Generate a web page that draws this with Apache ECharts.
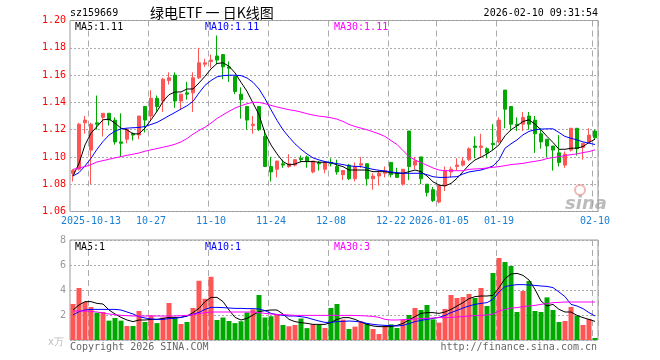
<!DOCTYPE html>
<html><head><meta charset="utf-8">
<script src="https://cdn.jsdelivr.net/npm/echarts@6/dist/echarts.min.js"></script>
<style>html,body{margin:0;padding:0;background:#fff}#c{width:660px;height:360px}</style>
</head><body><div id="c"></div>
<script>
const dates = ['2025-09-30','2025-10-09','2025-10-10','2025-10-13','2025-10-14','2025-10-15','2025-10-16','2025-10-17',
'2025-10-20','2025-10-21','2025-10-22','2025-10-23','2025-10-24',
'2025-10-27','2025-10-28','2025-10-29','2025-10-30','2025-10-31',
'2025-11-03','2025-11-04','2025-11-05','2025-11-06','2025-11-07',
'2025-11-10','2025-11-11','2025-11-12','2025-11-13','2025-11-14',
'2025-11-17','2025-11-18','2025-11-19','2025-11-20','2025-11-21',
'2025-11-24','2025-11-25','2025-11-26','2025-11-27','2025-11-28',
'2025-12-01','2025-12-02','2025-12-03','2025-12-04','2025-12-05',
'2025-12-08','2025-12-09','2025-12-10','2025-12-11','2025-12-12',
'2025-12-15','2025-12-16','2025-12-17','2025-12-18','2025-12-19',
'2025-12-22','2025-12-23','2025-12-24','2025-12-25','2025-12-26',
'2025-12-29','2025-12-30','2025-12-31',
'2026-01-05','2026-01-06','2026-01-07','2026-01-08','2026-01-09',
'2026-01-12','2026-01-13','2026-01-14','2026-01-15','2026-01-16',
'2026-01-19','2026-01-20','2026-01-21','2026-01-22','2026-01-23',
'2026-01-26','2026-01-27','2026-01-28','2026-01-29','2026-01-30',
'2026-02-02','2026-02-03','2026-02-04','2026-02-05','2026-02-06',
'2026-02-09','2026-02-10'];

const tickDates = ['2025-10-13','2025-10-27','2025-11-10','2025-11-24','2025-12-08','2025-12-22','2026-01-05','2026-01-19','2026-02-10'];
const tickTexts = ['2025-10-13','10-27','11-10','11-24','12-08','12-22','2026-01-05','01-19','02-10'];

const openP = [1.088,1.091,1.125,1.105,1.125,1.129,1.132,1.127,1.111,1.113,
1.117,1.116,1.137,1.130,1.143,1.141,1.156,1.160,1.141,1.147,
1.147,1.158,1.168,1.170,1.174,1.175,1.166,1.159,1.146,1.137,
1.123,1.137,1.115,1.093,1.091,1.095,1.093,1.094,1.099,1.100,
1.089,1.096,1.091,1.096,1.093,1.087,1.094,1.084,1.094,1.095,
1.084,1.086,1.088,1.096,1.088,1.080,1.119,1.094,1.100,1.080,
1.076,1.067,1.079,1.089,1.093,1.094,1.098,1.108,1.107,1.106,
1.110,1.111,1.149,1.137,1.124,1.124,1.130,1.127,1.117,1.113,
1.108,1.103,1.094,1.105,1.121,1.107,1.111,1.119];

const closeP = [1.090,1.124,1.127,1.124,1.124,1.132,1.127,1.111,1.110,1.120,
1.116,1.130,1.127,1.143,1.137,1.157,1.158,1.141,1.146,1.146,
1.158,1.169,1.169,1.171,1.171,1.166,1.165,1.148,1.142,1.127,
1.124,1.120,1.093,1.089,1.097,1.094,1.095,1.098,1.098,1.097,
1.097,1.095,1.096,1.095,1.089,1.090,1.084,1.093,1.095,1.084,
1.086,1.088,1.090,1.087,1.085,1.091,1.093,1.097,1.084,1.074,
1.068,1.079,1.090,1.091,1.094,1.097,1.106,1.107,1.108,1.103,
1.109,1.127,1.135,1.124,1.123,1.129,1.124,1.117,1.111,1.108,
1.105,1.096,1.102,1.121,1.106,1.110,1.116,1.114];

const lowP = [1.082,1.090,1.117,1.080,1.120,1.115,1.123,1.109,1.100,1.110,
1.112,1.113,1.118,1.127,1.133,1.133,1.153,1.136,1.135,1.142,
1.133,1.157,1.166,1.165,1.168,1.157,1.155,1.146,1.128,1.120,
1.117,1.119,1.093,1.082,1.085,1.092,1.092,1.093,1.096,1.092,
1.088,1.090,1.088,1.093,1.087,1.083,1.083,1.082,1.092,1.079,
1.076,1.079,1.085,1.085,1.085,1.079,1.083,1.091,1.080,1.071,
1.067,1.066,1.075,1.085,1.090,1.093,1.097,1.099,1.100,1.099,
1.105,1.110,1.121,1.119,1.119,1.119,1.120,1.103,1.106,1.100,
1.090,1.093,1.092,1.104,1.101,1.098,1.110,1.113];

const highP = [1.091,1.125,1.130,1.125,1.145,1.132,1.132,1.129,1.132,1.121,
1.118,1.130,1.137,1.149,1.145,1.158,1.162,1.162,1.146,1.155,
1.162,1.180,1.172,1.175,1.189,1.175,1.170,1.159,1.151,1.137,
1.130,1.137,1.120,1.100,1.097,1.098,1.102,1.098,1.101,1.101,
1.097,1.097,1.097,1.099,1.098,1.090,1.095,1.096,1.100,1.095,
1.088,1.090,1.093,1.096,1.092,1.091,1.119,1.100,1.100,1.080,
1.078,1.079,1.093,1.093,1.099,1.100,1.107,1.115,1.117,1.107,
1.124,1.129,1.149,1.137,1.129,1.133,1.133,1.130,1.121,1.113,
1.108,1.116,1.104,1.121,1.121,1.110,1.121,1.120];

const volume = [2.88,4.16,3.04,2.64,2.19,2.24,1.55,1.76,1.55,1.12,
1.12,2.32,1.44,1.97,1.35,1.80,2.96,1.74,1.28,1.44,
2.56,4.74,3.30,5.06,1.60,1.80,1.52,1.35,1.50,2.20,
2.45,3.60,1.80,1.90,2.05,1.20,1.10,1.20,1.72,0.95,
1.25,1.20,0.96,2.56,2.88,1.63,0.88,1.07,1.49,1.31,
0.88,0.48,1.12,1.25,0.96,1.60,2.00,2.56,2.40,2.80,
1.65,1.39,2.48,3.60,3.36,3.44,3.68,3.36,4.16,2.72,
5.36,6.56,6.24,5.92,2.24,3.92,4.72,2.32,2.24,3.41,
2.40,1.44,1.52,2.64,1.92,1.20,1.68,0.16];

const ma5 = [1.0860,1.0953,1.1088,1.1174,1.1223,1.1272,1.1277,1.1248,1.1211,1.1199,
1.1169,1.1169,1.1211,1.1272,1.1334,1.1407,1.1456,1.1476,1.1476,1.1498,
1.1498,1.1542,1.1591,1.1645,1.1685,1.1690,1.1665,1.1616,1.1547,1.1481,
1.1395,1.1309,1.1174,1.1088,1.1022,1.0966,1.0941,1.0948,1.0966,1.0966,
1.0966,1.0961,1.0961,1.0958,1.0941,1.0929,1.0904,1.0904,1.0904,1.0904,
1.0892,1.0892,1.0892,1.0885,1.0880,1.0880,1.0892,1.0904,1.0892,1.0860,
1.0818,1.0794,1.0787,1.0806,1.0843,1.0892,1.0941,1.0978,1.0998,1.1022,
1.1052,1.1088,1.1155,1.1199,1.1228,1.1260,1.1272,1.1240,1.1199,1.1150,
1.1106,1.1056,1.1056,1.1064,1.1064,1.1076,1.1106,1.1130];

const ma10 = [1.0860,1.0885,1.0934,1.0990,1.1056,1.1113,1.1160,1.1189,1.1206,1.1211,
1.1214,1.1216,1.1223,1.1238,1.1253,1.1277,1.1302,1.1326,1.1351,1.1375,
1.1407,1.1469,1.1525,1.1560,1.1587,1.1596,1.1599,1.1599,1.1596,1.1579,
1.1547,1.1498,1.1427,1.1346,1.1268,1.1199,1.1145,1.1096,1.1056,1.1022,
1.0993,1.0978,1.0966,1.0958,1.0951,1.0944,1.0934,1.0931,1.0929,1.0919,
1.0909,1.0902,1.0897,1.0890,1.0885,1.0880,1.0880,1.0880,1.0880,1.0870,
1.0855,1.0850,1.0850,1.0853,1.0855,1.0875,1.0890,1.0897,1.0904,1.0917,
1.0934,1.0978,1.1064,1.1096,1.1125,1.1162,1.1187,1.1199,1.1204,1.1206,
1.1206,1.1179,1.1150,1.1137,1.1125,1.1110,1.1101,1.1091];

const ma30 = [1.0909,1.0919,1.0929,1.0944,1.0963,1.0973,1.0983,1.0993,1.1002,1.1012,
1.1020,1.1029,1.1042,1.1052,1.1061,1.1071,1.1081,1.1093,1.1110,1.1135,
1.1167,1.1194,1.1218,1.1248,1.1282,1.1309,1.1334,1.1358,1.1375,1.1390,
1.1400,1.1400,1.1390,1.1378,1.1366,1.1356,1.1346,1.1339,1.1329,1.1317,
1.1307,1.1299,1.1294,1.1287,1.1277,1.1260,1.1238,1.1223,1.1211,1.1199,
1.1184,1.1169,1.1150,1.1120,1.1091,1.1047,1.1002,1.0978,1.0958,1.0939,
1.0919,1.0904,1.0899,1.0899,1.0899,1.0899,1.0909,1.0912,1.0914,1.0919,
1.0924,1.0929,1.0936,1.0944,1.0948,1.0953,1.0961,1.0968,1.0975,1.0988,
1.0995,1.1002,1.1010,1.1017,1.1022,1.1032,1.1039,1.1052];

const vma5 = [2.40,2.80,3.07,3.07,2.93,2.88,2.40,2.08,1.81,1.60,
1.47,1.60,1.60,1.65,1.65,1.73,1.81,1.81,1.81,1.92,
2.19,2.53,3.07,3.41,3.41,3.07,2.40,1.81,1.60,1.73,
2.00,2.27,2.35,2.40,2.40,2.08,1.65,1.47,1.39,1.33,
1.25,1.25,1.25,1.40,1.65,1.79,1.79,1.65,1.44,1.25,
1.12,1.07,1.07,1.07,1.17,1.33,1.60,1.87,2.13,2.19,
2.19,2.13,2.24,2.45,2.72,2.99,3.31,3.47,3.52,3.52,
3.57,4.19,4.91,5.28,5.33,5.17,4.80,4.05,3.12,2.72,
2.85,2.45,2.24,2.24,1.97,1.79,1.65,1.49];

const vma10 = [2.00,2.27,2.40,2.45,2.45,2.45,2.45,2.45,2.40,2.24,
2.08,1.87,1.76,1.68,1.65,1.65,1.71,1.73,1.81,1.92,
2.05,2.21,2.45,2.61,2.61,2.59,2.56,2.53,2.53,2.51,
2.51,2.48,2.35,2.13,2.03,1.97,1.92,1.92,1.87,1.79,
1.65,1.52,1.41,1.41,1.47,1.49,1.52,1.49,1.44,1.33,
1.25,1.20,1.17,1.15,1.12,1.17,1.31,1.47,1.57,1.65,
1.73,1.81,1.97,2.19,2.37,2.56,2.72,2.85,2.93,2.99,
3.25,3.84,4.27,4.37,4.43,4.43,4.40,4.37,4.32,4.29,
4.19,3.84,3.47,2.85,2.72,2.51,2.19,1.92];

const vma30 = [2.32,2.32,2.32,2.29,2.24,2.16,2.08,2.03,1.97,1.95,
1.92,1.92,1.92,1.92,1.92,1.92,1.92,1.92,1.95,1.97,
2.03,2.11,2.19,2.24,2.24,2.24,2.24,2.24,2.24,2.24,
2.24,2.19,2.13,2.08,2.05,2.03,2.00,1.97,1.97,1.97,
1.97,1.97,1.97,1.97,1.97,1.97,1.97,1.96,1.95,1.92,
1.89,1.81,1.65,1.60,1.60,1.63,1.65,1.68,1.71,1.73,
1.76,1.79,1.79,1.81,1.84,1.87,1.92,1.95,1.97,2.00,
2.08,2.32,2.45,2.56,2.59,2.67,2.72,2.77,2.85,2.91,
2.99,3.01,3.04,3.04,3.04,3.04,3.04,3.04];

const UP = '#ff5555', DOWN = '#00a800';
const MONO = '"DejaVu Sans Mono", "Liberation Mono", monospace';

const candles = dates.map((d, i) => [openP[i], closeP[i], lowP[i], highP[i]]);
const volBars = volume.map((v, i) => ({value: v, itemStyle: {color: closeP[i] >= openP[i] ? UP : DOWN}}));

const isTick = (i, v) => tickDates.indexOf(v) >= 0;
const splitX = {show: true, interval: isTick, lineStyle: {color: '#aaa', type: [6, 4], width: 1}};

function lineSeries(data, color, xi, z) {
  return {type: 'line', data: data, xAxisIndex: xi, yAxisIndex: xi, symbol: 'none', showSymbol: false,
    lineStyle: {color: color, width: 1}, itemStyle: {color: color}, z: z, silent: true};
}
function txt(x, y, s, color, extra) {
  return Object.assign({type: 'text', x: x, y: y, silent: true,
    style: Object.assign({text: s, fill: color, font: '10px ' + MONO, textVerticalAlign: 'middle', verticalAlign: 'middle'}, {})}, extra || {});
}

const chart = echarts.init(document.getElementById('c'), null, {renderer: 'canvas'});
chart.setOption({
  animation: false,
  backgroundColor: '#fff',
  textStyle: {fontFamily: MONO},
  grid: [
    {left: 70, top: 20.5, width: 528, height: 191, show: true, borderColor: '#999', borderWidth: 1, backgroundColor: 'transparent'},
    {left: 70, top: 240, width: 528, height: 100, show: true, borderColor: '#999', borderWidth: 1, backgroundColor: 'transparent'}
  ],
  xAxis: [
    {type: 'category', gridIndex: 0, data: dates, boundaryGap: true,
      axisLine: {show: false}, axisTick: {show: false},
      axisLabel: {interval: isTick, formatter: v => tickTexts[tickDates.indexOf(v)], color: '#1a7fd4', fontFamily: MONO, fontSize: 10, margin: 5},
      splitLine: splitX},
    {type: 'category', gridIndex: 1, data: dates, boundaryGap: true,
      axisLine: {show: false}, axisTick: {show: false}, axisLabel: {show: false},
      splitLine: splitX}
  ],
  yAxis: [
    {type: 'value', gridIndex: 0, min: 1.06, max: 1.20, interval: 0.02, scale: true,
      axisLine: {show: false}, axisTick: {show: false},
      axisLabel: {color: '#ff0000', formatter: v => v.toFixed(2), fontFamily: MONO, fontSize: 10, margin: 4},
      splitLine: {show: true, lineStyle: {color: '#aaa', type: [2, 2], width: 1}}},
    {type: 'value', gridIndex: 1, min: 0, max: 8, interval: 2,
      axisLine: {show: false}, axisTick: {show: false},
      axisLabel: {color: '#999', formatter: v => v === 0 ? '' : String(v), fontFamily: MONO, fontSize: 10, margin: 4},
      splitLine: {show: true, lineStyle: {color: '#aaa', type: [2, 2], width: 1}}}
  ],
  series: [
    {type: 'candlestick', xAxisIndex: 0, yAxisIndex: 0, data: candles, barWidth: 4, z: 3, silent: true,
      itemStyle: {color: UP, color0: DOWN, borderColor: UP, borderColor0: DOWN, borderWidth: 1}},
    lineSeries(ma5, '#000000', 0, 5),
    lineSeries(ma10, '#0000ff', 0, 5),
    lineSeries(ma30, '#ff00ff', 0, 5),
    {type: 'bar', xAxisIndex: 1, yAxisIndex: 1, data: volBars, barWidth: 5, z: 3, silent: true},
    lineSeries(vma5, '#000000', 1, 5),
    lineSeries(vma10, '#0000ff', 1, 5),
    lineSeries(vma30, '#ff00ff', 1, 5)
  ],
  graphic: [
    txt(70, 13, 'sz159669', '#000'),
    {type: 'text', x: 150, y: 13, silent: true, style: {text: '绿电ETF 一 日K线图', fill: '#000', font: '14px "Noto Sans CJK SC"', textVerticalAlign: 'middle', verticalAlign: 'middle'}},
    {type: 'text', x: 598, y: 13, silent: true, style: {text: '2026-02-10 09:31:54', fill: '#000', font: '10px ' + MONO, textAlign: 'right', align: 'right', textVerticalAlign: 'middle', verticalAlign: 'middle'}},
    txt(75, 27, 'MA5:1.11', '#000'),
    txt(205, 27, 'MA10:1.11', '#0000ff'),
    txt(334, 27, 'MA30:1.11', '#ff00ff'),
    txt(75, 247, 'MA5:1', '#000'),
    txt(205, 247, 'MA10:1', '#0000ff'),
    txt(334, 247, 'MA30:3', '#ff00ff'),
    txt(70, 347, 'Copyright 2026 SINA.COM', '#666'),
    {type: 'text', x: 597, y: 347, silent: true, style: {text: 'http://finance.sina.com.cn', fill: '#666', font: '10px ' + MONO, textAlign: 'right', align: 'right', textVerticalAlign: 'middle', verticalAlign: 'middle'}},
    txt(48, 342, 'x万', '#bbb'),
    {type: 'circle', silent: true, shape: {cx: 580, cy: 190, r: 5}, style: {fill: 'none', stroke: 'rgba(235,120,120,0.55)', lineWidth: 2}, z: 10},
    {type: 'text', x: 565, y: 204, silent: true, z: 10, style: {text: 'sina', fill: 'rgba(160,160,160,0.7)', font: 'italic bold 18px "DejaVu Sans"', textVerticalAlign: 'middle', verticalAlign: 'middle'}}
  ]
});
</script>
</body></html>
